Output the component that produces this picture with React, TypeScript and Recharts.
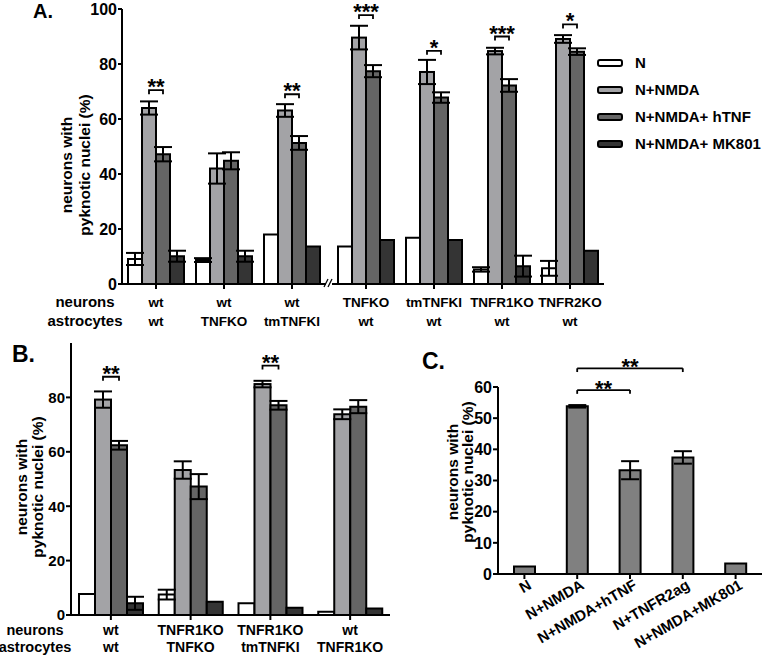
import { BarChart, Bar, XAxis, YAxis, ErrorBar, Legend, ReferenceLine } from "recharts";

// panel A
const neuronsA = ["wt", "wt", "wt", "TNFKO", "tmTNFKI", "TNFR1KO", "TNFR2KO"];
const astroA = ["wt", "TNFKO", "tmTNFKI", "wt", "wt", "wt", "wt"];
const nA = [9.1, 8.7, 18, 13.6, 16.8, 5.3, 5.7];
const nErrA = [2.2, 0.7, null, null, null, 0.8, 2.7];
const nmdaA = [64, 42, 63.1, 89.6, 77.1, 84.7, 89.1];
const nmdaErrA = [2.4, 5.5, 2.3, 4.3, 4.4, 1.2, 1.4];
const htnfA = [47.2, 44.8, 51.3, 77.4, 67.8, 72.2, 84.5];
const htnfErrA = [2.6, 3.1, 2.5, 2.2, 1.9, 2.3, 1.2];
const mkA = [10.1, 10.1, 13.6, 16, 16, 6.5, 12.1];
const mkErrA = [2, 2, null, null, null, 3.8, null];
const sigA = ["**", "", "**", "***", "*", "***", "*"];
const sigYA = [70.5, null, 69, 97.8, 84.8, 90, 94.4];

// panel B
const neuronsB = ["wt", "TNFR1KO", "TNFR1KO", "wt"];
const astroB = ["wt", "TNFKO", "tmTNFKI", "TNFR1KO"];
const nB = [7.7, 7.5, 4.3, 1.2];
const nErrB = [null, 1.8, null, null];
const nmdaB = [79.2, 53.3, 84.9, 73.8];
const nmdaErrB = [3, 3.2, 1.2, 1.8];
const htnfB = [62.4, 47.2, 77.1, 76.6];
const htnfErrB = [1.6, 4.6, 1.6, 2.4];
const mkB = [4.3, 4.9, 2.7, 2.4];
const mkErrB = [2.4, null, null, null];
const sigB = ["**", "", "**", ""];
const sigYB = [87.6, null, 91.7, null];

// panel C
const catsC = ["N", "N+NMDA", "N+NMDA+hTNF", "N+TNFR2ag", "N+NMDA+MK801"];
const valsC = [2.4, 53.8, 33.3, 37.4, 3.4];
const errC = [null, 0.4, 2.9, 2, null];

const SERIES = [
  { key: "n", name: "N", fill: "#ffffff" },
  { key: "nmda", name: "N+NMDA", fill: "#a3a3a6" },
  { key: "htnf", name: "N+NMDA+ hTNF", fill: "#656565" },
  { key: "mk", name: "N+NMDA+ MK801", fill: "#343434" },
];

const rowsA = neuronsA.map((nr, i) => ({
  key: nr + "|" + astroA[i],
  n: nA[i], nErr: nErrA[i],
  nmda: nmdaA[i], nmdaErr: nmdaErrA[i],
  htnf: htnfA[i], htnfErr: htnfErrA[i],
  mk: mkA[i], mkErr: mkErrA[i],
  sig: sigA[i], sigY: sigYA[i],
}));

const rowsB = neuronsB.map((nr, i) => ({
  key: nr + "|" + astroB[i],
  n: nB[i], nErr: nErrB[i],
  nmda: nmdaB[i], nmdaErr: nmdaErrB[i],
  htnf: htnfB[i], htnfErr: htnfErrB[i],
  mk: mkB[i], mkErr: mkErrB[i],
  sig: sigB[i], sigY: sigYB[i],
}));

const rowsC = catsC.map((c, i) => ({ name: c, v: valsC[i], err: errC[i] }));

const FONT = "'Liberation Sans', Arial, sans-serif";
const axisStyle = { stroke: "#000", strokeWidth: 2 };

function makeTick(first: number, second: number, size: number) {
  return function TwoLineTick(props: any) {
    const { x, y, payload } = props;
    const [a, b] = String(payload.value).split("|");
    return (
      <text x={x} y={y} textAnchor="middle" fill="#000" fontSize={size} fontWeight="bold">
        <tspan x={x} dy={first}>{a}</tspan>
        <tspan x={x} dy={second}>{b}</tspan>
      </text>
    );
  };
}

// NMDA bar with the significance bracket to the next bar
function SigBar(props: any) {
  const { x, y, width, height, fill, payload, value } = props;
  const bar = <rect x={x} y={y} width={width} height={height} fill={fill} stroke="#000" strokeWidth={2} />;
  if (!payload.sig || payload.sigY == null || !value) return bar;
  const base = y + height;
  const by = base - (payload.sigY * height) / value;
  const x1 = x + width / 2;
  const x2 = x + width * 1.5;
  return (
    <g>
      {bar}
      <path d={`M${x1},${by + 4}L${x1},${by}L${x2},${by}L${x2},${by + 4}`} fill="none" stroke="#000" strokeWidth={1.8} />
      <text x={(x1 + x2) / 2} y={by + 4} textAnchor="middle" fontSize={22} fontWeight="bold" fill="#000">
        {payload.sig}
      </text>
    </g>
  );
}

function LegendBox(props: any) {
  const items = [...(props.payload || [])].sort(
    (a: any, b: any) =>
      SERIES.findIndex((s) => s.name === a.value) - SERIES.findIndex((s) => s.name === b.value)
  );
  return (
    <div style={{ fontFamily: FONT }}>
      {items.map((it: any) => (
        <div key={it.value} style={{ display: "flex", alignItems: "center", height: 27 }}>
          <div
            style={{
              width: 22, height: 4, background: it.color, border: "2px solid #000",
              borderRadius: 3, marginRight: 12,
            }}
          />
          <span style={{ fontSize: 15, fontWeight: "bold", color: "#000", whiteSpace: "nowrap" }}>{it.value}</span>
        </div>
      ))}
    </div>
  );
}

function groupBars(errW: number) {
  return SERIES.map((s) => (
    <Bar
      key={s.key}
      dataKey={s.key}
      name={s.name}
      fill={s.fill}
      stroke="#000"
      strokeWidth={2}
      isAnimationActive={false}
      shape={s.key === "nmda" ? SigBar : undefined}
    >
      <ErrorBar dataKey={s.key + "Err"} width={errW} stroke="#000" strokeWidth={2} />
    </Bar>
  ));
}

function CTick(props: any) {
  const { x, y, payload } = props;
  const tx = x + 8;
  const ty = y + 7;
  return (
    <text x={tx} y={ty} textAnchor="end" fontSize={15} fontWeight="bold" fill="#000" transform={`rotate(-30, ${tx}, ${ty})`}>
      {payload.value}
    </text>
  );
}

function YLabel({ cx, cy, lh }: { cx: number; cy: number; lh: number }) {
  return (
    <div
      style={{
        position: "absolute", left: cx - 100, top: cy - lh, width: 200, height: lh * 2,
        transform: "rotate(-90deg)", textAlign: "center", lineHeight: lh + "px",
        fontSize: 15.5, fontWeight: "bold", whiteSpace: "nowrap",
      }}
    >
      neurons with
      <br />
      pyknotic nuclei (%)
    </div>
  );
}

const abs = (left: number, top: number): React.CSSProperties => ({ position: "absolute", left, top });

const starLabel = { value: "**", position: "top" as const, offset: -6, fill: "#000", fontSize: 22, fontWeight: "bold" };

export default function App() {
  return (
    <div style={{ position: "absolute", left: 0, top: 0, width: 778, height: 660, background: "#fff", fontFamily: FONT, color: "#000" }}>
      {/* Panel A */}
      <div style={{ ...abs(33, 1), fontSize: 20, fontWeight: "bold", lineHeight: "20px" }}>A.</div>
      <YLabel cx={76} cy={165} lh={18} />
      <div style={{ ...abs(25, 292), width: 120, textAlign: "center", fontSize: 15, fontWeight: "bold", lineHeight: "19px" }}>
        neurons<br />astrocytes
      </div>
      <div style={abs(0, 0)}>
        <BarChart width={328} height={340} data={rowsA.slice(0, 3)} margin={{ top: 9, right: 2, bottom: 6, left: 0 }} barSize={14} barGap={0}>
          <XAxis dataKey="key" interval={0} height={50} axisLine={axisStyle} tickLine={axisStyle} tickSize={5} tick={makeTick(16, 19, 13.5)} />
          <YAxis width={122} domain={[0, 100]} ticks={[0, 20, 40, 60, 80, 100]} axisLine={axisStyle} tickLine={axisStyle} tickSize={4} tickMargin={1} tick={{ fill: "#000", fontSize: 16, fontWeight: "bold" }} />
          {groupBars(9)}
        </BarChart>
      </div>
      <svg style={abs(322, 276)} width={14} height={14}>
        <line x1={2} y1={11} x2={6} y2={3} stroke="#000" strokeWidth={1.3} />
        <line x1={6} y1={11} x2={10} y2={3} stroke="#000" strokeWidth={1.3} />
      </svg>
      <div style={abs(330, 0)}>
        <BarChart width={448} height={340} data={rowsA.slice(3)} margin={{ top: 9, right: 174, bottom: 6, left: 2 }} barSize={14} barGap={0}>
          <XAxis dataKey="key" interval={0} height={50} axisLine={axisStyle} tickLine={axisStyle} tickSize={5} tick={makeTick(16, 19, 13.5)} />
          <YAxis hide domain={[0, 100]} />
          {groupBars(9)}
          <Legend
            layout="vertical"
            align="center"
            verticalAlign="middle"
            content={LegendBox}
            wrapperStyle={{ left: 267, top: 49, width: 180 }}
          />
        </BarChart>
      </div>

      {/* Panel B */}
      <div style={{ ...abs(12, 343), fontSize: 23, fontWeight: "bold", lineHeight: "23px" }}>B.</div>
      <YLabel cx={30} cy={487} lh={16} />
      <div style={{ ...abs(-25, 622), width: 120, textAlign: "center", fontSize: 14.5, fontWeight: "bold", lineHeight: "17px" }}>
        neurons<br />astrocytes
      </div>
      <div style={abs(0, 335)}>
        <BarChart width={392} height={325} data={rowsB} margin={{ top: 8, right: 2, bottom: 0, left: 0 }} barSize={16} barGap={0}>
          <XAxis dataKey="key" interval={0} height={45} axisLine={axisStyle} tickLine={axisStyle} tickSize={5} tick={makeTick(13, 17, 14)} />
          <YAxis width={71} domain={[0, 100]} ticks={[0, 20, 40, 60, 80]} axisLine={axisStyle} tickLine={axisStyle} tickSize={5} tickMargin={1} tick={{ fill: "#000", fontSize: 15, fontWeight: "bold" }} />
          {groupBars(9)}
        </BarChart>
      </div>

      {/* Panel C */}
      <div style={{ ...abs(422, 350), fontSize: 23, fontWeight: "bold", lineHeight: "23px" }}>C.</div>
      <YLabel cx={460} cy={472} lh={15} />
      <div style={abs(420, 340)}>
        <BarChart width={358} height={320} data={rowsC} margin={{ top: 47, right: 16, bottom: 0, left: 0 }} barSize={21}>
          <XAxis dataKey="name" interval={0} height={86} axisLine={axisStyle} tickLine={axisStyle} tickSize={5} tick={CTick} />
          <YAxis width={78} domain={[0, 60]} ticks={[0, 10, 20, 30, 40, 50, 60]} axisLine={axisStyle} tickLine={axisStyle} tickSize={5} tickMargin={1} tick={{ fill: "#000", fontSize: 16, fontWeight: "bold" }} />
          <Bar dataKey="v" fill="#808080" stroke="#000" strokeWidth={2} isAnimationActive={false}>
            <ErrorBar dataKey="err" width={9} stroke="#000" strokeWidth={2} />
          </Bar>
          <ReferenceLine ifOverflow="visible" stroke="#000" strokeWidth={1.8} segment={[{ x: "N+NMDA", y: 59 }, { x: "N+NMDA+hTNF", y: 59 }]} label={starLabel} />
          <ReferenceLine ifOverflow="visible" stroke="#000" strokeWidth={1.8} segment={[{ x: "N+NMDA", y: 59 }, { x: "N+NMDA", y: 57.8 }]} />
          <ReferenceLine ifOverflow="visible" stroke="#000" strokeWidth={1.8} segment={[{ x: "N+NMDA+hTNF", y: 59 }, { x: "N+NMDA+hTNF", y: 57.8 }]} />
          <ReferenceLine ifOverflow="visible" stroke="#000" strokeWidth={1.8} segment={[{ x: "N+NMDA", y: 66 }, { x: "N+TNFR2ag", y: 66 }]} label={starLabel} />
          <ReferenceLine ifOverflow="visible" stroke="#000" strokeWidth={1.8} segment={[{ x: "N+NMDA", y: 66 }, { x: "N+NMDA", y: 64.8 }]} />
          <ReferenceLine ifOverflow="visible" stroke="#000" strokeWidth={1.8} segment={[{ x: "N+TNFR2ag", y: 66 }, { x: "N+TNFR2ag", y: 64.8 }]} />
        </BarChart>
      </div>
    </div>
  );
}
